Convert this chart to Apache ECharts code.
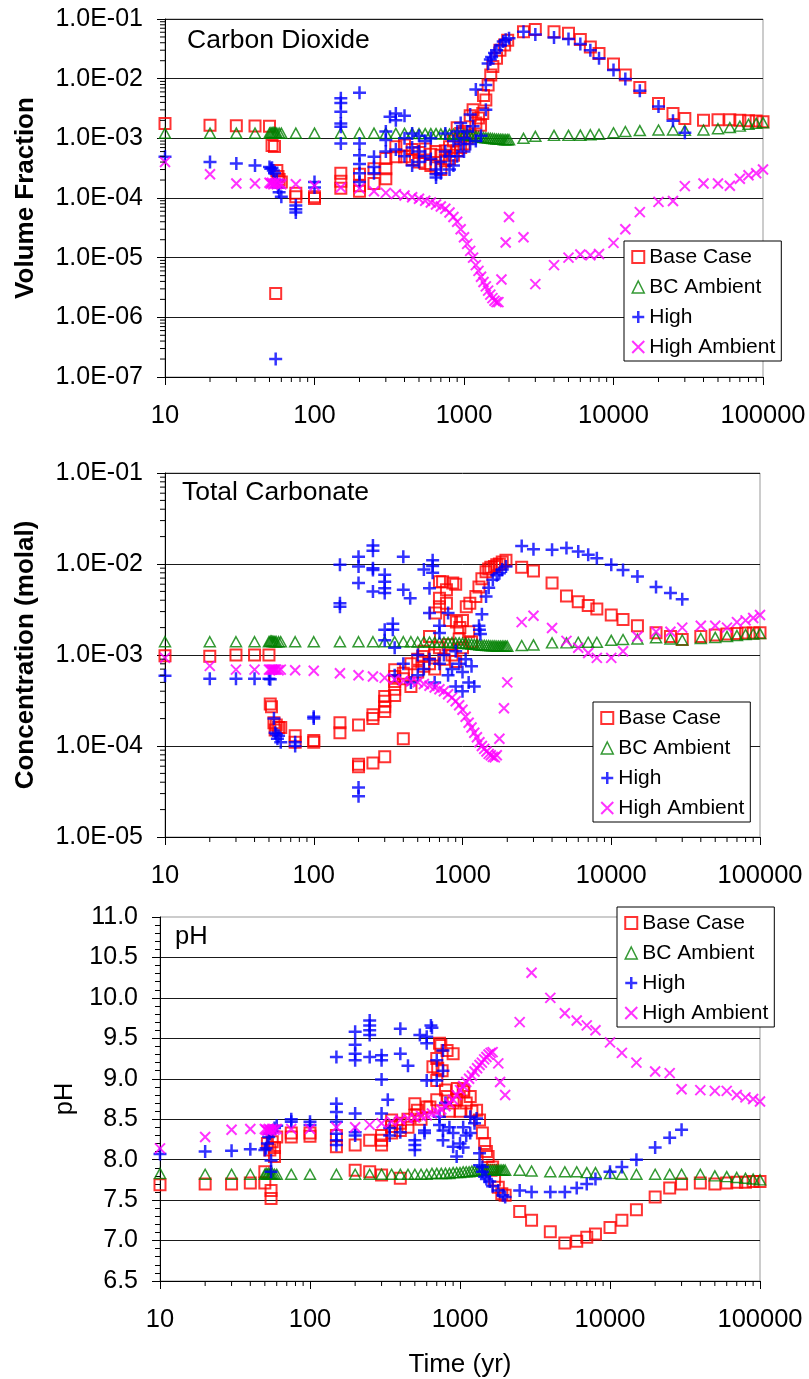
<!DOCTYPE html>
<html>
<head>
<meta charset="utf-8">
<title>Carbon Dioxide, Total Carbonate and pH versus time</title>
<script src="https://cdn.jsdelivr.net/npm/echarts@6/dist/echarts.min.js"></script>
<style>
  html, body { margin: 0; padding: 0; background: #fff; }
  #chart { width: 809px; height: 1379px; }
</style>
</head>
<body>
<div id="chart"></div>
<script>
// ---------- Data: [time (yr), value] ----------
const seriesNames = ['Base Case', 'BC Ambient', 'High', 'High Ambient'];
const panelTitles = ['Carbon Dioxide', 'Total Carbonate', 'pH'];
const yAxisTitles = ['Volume Fraction', 'Concentration (molal)', 'pH'];
const xAxisTitle = 'Time (yr)';

// Carbon dioxide, volume fraction
const co2Base = [
  [10,1.78e-3],[20,1.66e-3],[30,1.63e-3],[40,1.61e-3],[50,1.6e-3],
  [52,7.6e-4],[54,7.3e-4],[55,2.5e-6],[56,2.9e-4],[57,2.3e-4],[58,2.05e-4],[60,1.85e-4],
  [75,1.2e-4],[75,1.05e-4],[100,1.05e-4],[100,9.8e-5],
  [150,2.6e-4],[150,1.9e-4],[150,1.45e-4],[200,2.5e-4],[200,1.6e-4],[200,1.3e-4],
  [250,3.1e-4],[250,1.75e-4],[300,4.6e-4],[300,3.1e-4],[300,2.1e-4],
  [350,7.2e-4],[350,4.9e-4],[400,7.7e-4],[400,4.9e-4],[450,6.5e-4],[450,4.4e-4],
  [500,5.8e-4],[500,4.0e-4],[550,6.6e-4],[550,3.8e-4],[600,5.4e-4],[600,3.5e-4],
  [650,6.0e-4],[650,3.2e-4],[700,5.2e-4],[700,3.0e-4],[750,6.2e-4],[750,4.2e-4],
  [800,7.2e-4],[800,4.5e-4],[850,9.0e-4],[850,5.2e-4],[900,1.5e-3],[900,6.2e-4],
  [950,1.2e-3],[950,7.0e-4],[1000,1.3e-3],[1000,8.0e-4],[1050,1.0e-3],[1100,2.4e-3],
  [1100,1.1e-3],[1150,3.0e-3],[1200,1.8e-3],[1250,2.2e-3],[1290,1.65e-3],[1335,2.6e-3],
  [1350,5.2e-3],[1400,4.4e-3],[1450,7.8e-3],[1510,1.15e-2],[1560,1.6e-2],[1650,2.2e-2],
  [1740,3.0e-2],[1870,3.65e-2],[1960,4.4e-2],
  [2500,6.1e-2],[3000,6.7e-2],[4000,6.1e-2],[5000,5.75e-2],[6000,4.55e-2],[7000,3.4e-2],
  [8000,2.65e-2],[10000,1.76e-2],[12000,1.15e-2],[15000,7.1e-3],[20000,3.85e-3],
  [25000,2.6e-3],[30000,2.15e-3],[40000,2.0e-3],[50000,2.05e-3],[60000,2.05e-3],
  [70000,2.0e-3],[80000,1.97e-3],[90000,1.95e-3],[100000,1.9e-3]
];
const co2BcAmb = [
  [10,1.22e-3],[20,1.22e-3],[30,1.22e-3],[40,1.22e-3],[50,1.22e-3],[51,1.24e-3],[52,1.25e-3],
  [53,1.25e-3],[54,1.24e-3],[55,1.23e-3],[56,1.22e-3],[58,1.22e-3],[60,1.22e-3],[75,1.22e-3],
  [100,1.22e-3],[150,1.22e-3],[200,1.22e-3],[250,1.22e-3],[300,1.21e-3],[350,1.21e-3],
  [400,1.21e-3],[450,1.21e-3],[500,1.2e-3],[550,1.2e-3],[600,1.2e-3],[650,1.2e-3],
  [700,1.19e-3],[750,1.19e-3],[800,1.18e-3],[850,1.18e-3],[900,1.17e-3],[950,1.16e-3],
  [1000,1.15e-3],[1050,1.14e-3],[1100,1.12e-3],[1150,1.1e-3],[1200,1.08e-3],[1250,1.06e-3],
  [1300,1.04e-3],[1350,1.03e-3],[1400,1.02e-3],[1450,1.01e-3],[1500,1.0e-3],[1550,9.9e-4],
  [1600,9.8e-4],[1650,9.7e-4],[1700,9.7e-4],[1750,9.6e-4],[1800,9.6e-4],[1850,9.5e-4],
  [1900,9.5e-4],[1950,9.5e-4],[2000,9.5e-4],[2500,1.0e-3],[3000,1.08e-3],[4000,1.12e-3],
  [5000,1.12e-3],[6000,1.13e-3],[7000,1.15e-3],[8000,1.17e-3],[10000,1.24e-3],[12000,1.3e-3],
  [15000,1.35e-3],[20000,1.38e-3],[25000,1.38e-3],[30000,1.36e-3],[40000,1.38e-3],
  [50000,1.45e-3],[60000,1.52e-3],[70000,1.6e-3],[80000,1.72e-3],[90000,1.78e-3],[100000,1.83e-3]
];
const co2High = [
  [10,4.9e-4],[20,4.0e-4],[30,3.8e-4],[40,3.5e-4],[50,3.3e-4],[51,3.1e-4],[52,3.2e-4],
  [53,2.9e-4],[54,2.6e-4],[55,2.0e-7],[56,2.0e-4],[57,1.5e-4],[58,1.25e-4],[60,1.05e-4],
  [75,7.5e-5],[75,6.5e-5],[75,5.7e-5],[100,1.85e-4],[100,1.5e-4],
  [150,4.7e-3],[150,3.9e-3],[150,2.8e-3],[150,1.78e-3],[150,1.56e-3],[150,8.2e-4],
  [200,5.8e-3],[200,8.2e-4],[200,5.2e-4],[200,3.7e-4],[200,2.6e-4],[200,1.85e-4],
  [250,4.9e-4],[250,3.3e-4],[250,2.6e-4],[300,1.3e-3],[300,9.4e-4],[300,6.0e-4],[320,2.3e-3],
  [350,2.6e-3],[350,2.0e-3],[350,6.5e-4],[400,2.4e-3],[400,1.0e-3],[400,5.0e-4],
  [450,1.2e-3],[450,7.0e-4],[450,3.5e-4],[500,1.1e-3],[500,6.0e-4],[500,4.0e-4],
  [550,9.0e-4],[550,5.0e-4],[600,1.0e-3],[600,4.5e-4],[650,3.0e-4],[650,2.5e-4],[650,2.2e-4],
  [700,2.6e-4],[700,4.0e-4],[750,1.2e-3],[750,6.0e-4],[800,5.0e-4],[800,3.0e-4],
  [850,9.0e-4],[850,3.5e-4],[900,1.3e-3],[900,5.0e-4],[950,1.8e-3],[950,8.0e-4],
  [1000,1.0e-3],[1000,6.0e-4],[1050,1.3e-3],[1100,2.5e-3],[1100,8.0e-4],[1150,1.6e-3],
  [1200,6.6e-3],[1200,9.0e-4],[1300,1.1e-3],[1400,7.8e-3],[1400,3.0e-3],[1450,1.8e-2],
  [1500,2.1e-2],[1530,2.3e-2],[1600,2.7e-2],[1650,3.0e-2],[1750,3.6e-2],[1830,4.2e-2],
  [1900,4.5e-2],[2000,4.75e-2],
  [2500,6.1e-2],[3000,5.5e-2],[4000,4.9e-2],[5000,4.6e-2],[6000,3.8e-2],[7000,3.0e-2],
  [8000,2.2e-2],[10000,1.4e-2],[12000,9.9e-3],[15000,6.3e-3],[20000,3.4e-3],
  [25000,1.97e-3],[30000,1.24e-3]
];
const co2HighAmb = [
  [10,4.0e-4],[20,2.5e-4],[30,1.75e-4],[40,1.75e-4],[50,1.8e-4],[51,1.75e-4],[52,1.8e-4],
  [53,1.7e-4],[54,1.75e-4],[55,1.8e-4],[56,1.7e-4],[58,1.75e-4],[60,1.7e-4],[75,1.7e-4],
  [100,1.6e-4],[150,1.5e-4],[200,1.45e-4],[250,1.3e-4],[300,1.22e-4],[350,1.16e-4],
  [400,1.1e-4],[450,1.03e-4],[500,9.7e-5],[550,9.0e-5],[600,8.4e-5],[650,7.8e-5],
  [700,7.2e-5],[750,6.6e-5],[800,5.7e-5],[850,4.8e-5],[900,4.0e-5],[950,3.0e-5],
  [1000,2.2e-5],[1050,1.7e-5],[1100,1.3e-5],[1150,1.0e-5],[1200,7.5e-6],[1250,6.0e-6],
  [1300,4.8e-6],[1350,3.9e-6],[1400,3.3e-6],[1450,2.8e-6],[1500,2.4e-6],[1550,2.1e-6],
  [1600,1.9e-6],[1650,1.8e-6],[1700,1.8e-6],[1780,4.3e-6],[1900,1.8e-5],[2000,4.8e-5],
  [2500,2.2e-5],[3000,3.6e-6],[4000,7.5e-6],[5000,1.0e-5],[6000,1.13e-5],[7000,1.1e-5],
  [8000,1.15e-5],[10000,1.77e-5],[12000,3.0e-5],[15000,5.8e-5],[20000,8.6e-5],
  [25000,8.9e-5],[30000,1.58e-4],[40000,1.75e-4],[50000,1.75e-4],[60000,1.6e-4],
  [70000,2.1e-4],[80000,2.4e-4],[90000,2.6e-4],[100000,3.0e-4]
];

// Total carbonate, molal
const tcBase = [
  [10,9.8e-4],[20,9.7e-4],[30,1.0e-3],[40,1.0e-3],[50,1.0e-3],[51,2.9e-4],[52,2.7e-4],
  [54,1.8e-4],[55,1.5e-4],[56,1.7e-4],[58,1.6e-4],[60,1.6e-4],[75,1.3e-4],[75,1.1e-4],
  [100,1.15e-4],[100,1.1e-4],[150,1.8e-4],[150,1.4e-4],[200,1.7e-4],[200,6.3e-5],[200,5.9e-5],
  [250,2.2e-4],[250,2.0e-4],[250,6.5e-5],[300,3.5e-4],[300,3.1e-4],[300,2.7e-4],[300,2.4e-4],
  [300,7.6e-5],[350,6.9e-4],[350,5.8e-4],[350,5.1e-4],[350,4.2e-4],[350,3.6e-4],
  [400,1.2e-4],[400,6.3e-4],[400,5.5e-4],[450,4.5e-4],[450,8.0e-4],[500,9.0e-4],[500,6.5e-4],
  [540,9.6e-4],[550,1.1e-3],[550,7.5e-4],[600,1.6e-3],[600,8.0e-4],[650,1.0e-3],[650,7.0e-4],
  [660,2.9e-3],[700,6.4e-3],[700,4.2e-3],[700,3.4e-3],[700,1.2e-3],[735,6.4e-3],[750,9.0e-4],
  [780,5.2e-3],[780,3.7e-3],[800,1.3e-3],[820,2.4e-3],[850,1.0e-3],[860,6.2e-3],[900,6.0e-3],
  [900,8.5e-4],[910,2.3e-3],[950,1.5e-3],[960,2.0e-3],[1000,2.4e-3],[1000,1.2e-3],
  [1060,3.4e-3],[1100,1.8e-3],[1120,3.7e-3],[1150,1.4e-3],[1230,4.4e-3],[1290,5.6e-3],
  [1350,6.9e-3],[1440,8.2e-3],[1500,8.8e-3],[1550,9.2e-3],[1640,9.4e-3],[1700,9.8e-3],
  [1770,1.0e-2],[1850,1.05e-2],[1960,1.1e-2],
  [2500,9.2e-3],[3000,8.4e-3],[4000,6.2e-3],[5000,4.45e-3],[6000,3.85e-3],[7000,3.5e-3],
  [8000,3.2e-3],[10000,2.75e-3],[12000,2.45e-3],[15000,2.1e-3],[20000,1.76e-3],
  [25000,1.6e-3],[30000,1.48e-3],[40000,1.6e-3],[50000,1.66e-3],[60000,1.7e-3],
  [70000,1.72e-3],[80000,1.74e-3],[90000,1.75e-3],[100000,1.76e-3]
];
const tcBcAmb = [
  [10,1.4e-3],[20,1.4e-3],[30,1.4e-3],[40,1.4e-3],[50,1.4e-3],[51,1.42e-3],[52,1.42e-3],
  [53,1.41e-3],[54,1.41e-3],[55,1.4e-3],[56,1.4e-3],[58,1.4e-3],[60,1.4e-3],[75,1.4e-3],
  [100,1.4e-3],[150,1.4e-3],[200,1.4e-3],[250,1.4e-3],[300,1.4e-3],[350,1.4e-3],
  [400,1.4e-3],[450,1.4e-3],[500,1.39e-3],[550,1.39e-3],[600,1.39e-3],[650,1.38e-3],
  [700,1.38e-3],[750,1.38e-3],[800,1.37e-3],[850,1.37e-3],[900,1.36e-3],[950,1.36e-3],
  [1000,1.35e-3],[1050,1.34e-3],[1100,1.33e-3],[1150,1.32e-3],[1200,1.31e-3],[1250,1.3e-3],
  [1300,1.29e-3],[1350,1.28e-3],[1400,1.28e-3],[1450,1.27e-3],[1500,1.27e-3],[1550,1.26e-3],
  [1600,1.26e-3],[1650,1.26e-3],[1700,1.25e-3],[1750,1.25e-3],[1800,1.25e-3],[1850,1.25e-3],
  [1900,1.25e-3],[1950,1.25e-3],[2000,1.25e-3],[2500,1.27e-3],[3000,1.29e-3],[4000,1.36e-3],
  [5000,1.36e-3],[6000,1.38e-3],[7000,1.38e-3],[8000,1.38e-3],[10000,1.45e-3],[12000,1.48e-3],
  [15000,1.5e-3],[20000,1.55e-3],[25000,1.5e-3],[30000,1.46e-3],[40000,1.52e-3],
  [50000,1.56e-3],[60000,1.6e-3],[70000,1.64e-3],[80000,1.68e-3],[90000,1.7e-3],[100000,1.72e-3]
];
const tcHigh = [
  [10,5.9e-4],[20,5.5e-4],[30,5.5e-4],[40,5.5e-4],[50,5.5e-4],[51,5.4e-4],[54,2.0e-4],
  [55,1.4e-4],[56,1.35e-4],[57,1.2e-4],[58,1.3e-4],[60,1.1e-4],[75,1.1e-4],[75,1.0e-4],
  [100,2.1e-4],[100,2.0e-4],[150,9.8e-3],[150,3.7e-3],[150,3.4e-3],
  [200,1.2e-2],[200,9.4e-3],[200,6.2e-3],[200,3.5e-5],[200,2.8e-5],
  [250,1.6e-2],[250,1.4e-2],[250,9.0e-3],[250,8.6e-3],[250,5.0e-3],
  [300,7.6e-3],[300,6.4e-3],[300,5.4e-3],[300,4.8e-3],[300,1.9e-3],[300,1.45e-3],
  [340,2.2e-3],[340,1.9e-3],[350,1.2e-3],[350,6.0e-4],[400,1.2e-2],[400,5.2e-3],[400,8.0e-4],
  [445,4.2e-3],[450,5.0e-4],[500,1.0e-3],[500,6.0e-4],[550,8.7e-3],[550,7.0e-4],
  [600,5.4e-3],[600,2.9e-3],[600,9.0e-4],[630,1.1e-2],[630,9.5e-3],[630,8.0e-3],[650,5.0e-4],
  [700,2.1e-3],[700,1.75e-3],[700,8.0e-4],[750,1.0e-3],[800,2.9e-3],[800,6.0e-4],
  [850,7.0e-4],[900,1.1e-3],[900,4.5e-4],[950,8.0e-4],[1000,6.5e-4],[1000,4.0e-4],
  [1050,9.0e-4],[1100,5.0e-4],[1150,7.5e-4],[1200,4.5e-4],[1290,2.1e-3],[1300,1.9e-3],
  [1320,1.7e-3],[1350,2.8e-3],[1440,4.4e-3],[1500,5.5e-3],[1600,6.7e-3],[1700,7.5e-3],
  [1770,7.9e-3],[1850,8.7e-3],[1960,9.4e-3],
  [2500,1.58e-2],[3000,1.45e-2],[4000,1.43e-2],[5000,1.5e-2],[6000,1.37e-2],[7000,1.26e-2],
  [8000,1.16e-2],[10000,9.8e-3],[12000,8.6e-3],[15000,7.3e-3],[20000,5.6e-3],
  [25000,4.8e-3],[30000,4.1e-3]
];
const tcHighAmb = [
  [10,9.3e-4],[20,7.6e-4],[30,6.9e-4],[40,6.9e-4],[50,6.9e-4],[51,6.9e-4],[52,6.9e-4],
  [53,6.9e-4],[54,6.9e-4],[55,6.9e-4],[56,6.9e-4],[58,6.8e-4],[60,6.9e-4],[75,6.8e-4],
  [100,6.7e-4],[150,6.3e-4],[200,6.0e-4],[250,5.8e-4],[300,5.6e-4],[350,5.4e-4],
  [400,5.2e-4],[450,5.1e-4],[500,5.0e-4],[550,4.8e-4],[600,4.6e-4],[650,4.4e-4],
  [700,4.2e-4],[750,4.0e-4],[800,3.7e-4],[850,3.4e-4],[900,3.1e-4],[950,2.8e-4],
  [1000,2.5e-4],[1050,2.1e-4],[1100,1.8e-4],[1150,1.6e-4],[1200,1.4e-4],[1250,1.25e-4],
  [1300,1.1e-4],[1350,1.0e-4],[1400,9.3e-5],[1450,8.7e-5],[1500,8.2e-5],[1550,7.9e-5],
  [1600,7.6e-5],[1650,7.5e-5],[1700,7.9e-5],[1770,1.2e-4],[1900,2.6e-4],[2000,5.0e-4],
  [2500,2.3e-3],[3000,2.7e-3],[4000,1.98e-3],[5000,1.43e-3],[6000,1.2e-3],[7000,1.05e-3],
  [8000,9.3e-4],[10000,9.3e-4],[12000,1.1e-3],[15000,1.6e-3],[20000,1.8e-3],[25000,1.8e-3],
  [30000,2.0e-3],[40000,2.1e-3],[50000,2.1e-3],[60000,2.0e-3],[70000,2.3e-3],
  [80000,2.4e-3],[90000,2.55e-3],[100000,2.75e-3]
];

// pH
const phBase = [
  [10,7.69],[20,7.7],[30,7.7],[40,7.71],[50,7.71],[50,7.85],[52,8.2],[54,8.12],[55,7.62],
  [55,7.52],[56,8.22],[58,8.15],[58,8.04],[60,8.28],[75,8.28],[75,8.33],[100,8.33],[100,8.29],
  [150,8.3],[150,8.16],[200,8.18],[200,7.87],[250,8.24],[250,7.85],[300,8.3],[300,8.24],
  [300,8.18],[300,7.81],[350,8.49],[350,8.41],[350,8.33],[400,7.77],[400,8.45],[400,8.36],
  [450,8.5],[450,8.4],[500,8.69],[500,8.55],[520,8.61],[550,8.5],[600,8.65],[630,8.65],
  [660,9.15],[700,8.74],[700,9.25],[700,8.98],[710,9.13],[730,9.44],[745,9.41],[760,9.1],
  [800,8.86],[820,8.78],[820,9.35],[850,8.6],[900,9.31],[900,8.7],[950,8.74],[960,8.88],
  [1000,8.6],[1050,8.86],[1060,8.84],[1100,8.7],[1170,8.78],[1200,8.6],[1290,8.61],
  [1350,8.49],[1410,8.33],[1460,8.2],[1500,8.1],[1540,8.04],[1610,7.87],[1650,7.91],
  [1700,7.75],[1800,7.66],[1900,7.58],[2000,7.56],
  [2500,7.36],[3000,7.25],[4000,7.11],[5000,6.97],[6000,6.99],[7000,7.04],[8000,7.08],
  [10000,7.16],[12000,7.25],[15000,7.38],[20000,7.54],[25000,7.65],[30000,7.7],
  [40000,7.71],[50000,7.7],[60000,7.71],[70000,7.72],[80000,7.72],[90000,7.73],[100000,7.73]
];
const phBcAmb = [
  [10,7.83],[20,7.82],[30,7.82],[40,7.82],[50,7.82],[51,7.83],[52,7.82],[53,7.83],[54,7.82],
  [55,7.82],[56,7.83],[58,7.82],[60,7.82],[75,7.82],[100,7.82],[150,7.82],[200,7.82],
  [250,7.82],[300,7.82],[350,7.82],[400,7.82],[450,7.82],[500,7.82],[550,7.82],[600,7.82],
  [650,7.83],[700,7.83],[750,7.83],[800,7.83],[850,7.83],[900,7.84],[950,7.84],[1000,7.84],
  [1050,7.85],[1100,7.85],[1150,7.85],[1200,7.86],[1250,7.86],[1300,7.86],[1350,7.87],
  [1400,7.87],[1450,7.87],[1500,7.87],[1550,7.87],[1600,7.87],[1650,7.87],[1700,7.87],
  [1750,7.87],[1800,7.87],[1850,7.87],[1900,7.87],[1950,7.87],[2000,7.87],[2500,7.87],
  [3000,7.86],[4000,7.85],[5000,7.85],[6000,7.85],[7000,7.84],[8000,7.84],[10000,7.83],
  [12000,7.82],[15000,7.82],[20000,7.82],[25000,7.82],[30000,7.82],[40000,7.82],
  [50000,7.8],[60000,7.79],[70000,7.78],[80000,7.77],[90000,7.76],[100000,7.75]
];
const phHigh = [
  [10,8.07],[20,8.1],[30,8.11],[40,8.13],[50,8.12],[51,8.14],[52,8.2],[53,8.28],[54,8.32],
  [55,7.99],[55,7.85],[56,8.35],[58,8.39],[60,8.42],[75,8.5],[75,8.47],[100,8.47],[100,8.43],
  [150,9.27],[150,8.69],[150,8.59],[150,8.47],[150,8.32],[150,8.24],[150,8.18],
  [200,9.58],[200,9.42],[200,9.31],[200,9.23],[200,8.57],[200,8.34],[200,8.3],
  [250,9.72],[250,9.66],[250,9.6],[250,9.54],[250,9.27],[300,9.29],[300,9.23],[300,8.99],
  [300,8.57],[330,8.74],[340,8.39],[340,8.3],[400,9.62],[400,9.31],[400,8.34],[450,9.16],
  [500,8.24],[500,8.18],[500,8.12],[540,9.54],[580,8.36],[580,8.33],[600,9.52],[600,9.44],
  [600,8.98],[640,9.66],[650,9.63],[700,9.23],[700,8.98],[730,8.53],[730,8.43],[770,9.35],
  [770,9.1],[770,8.36],[770,8.24],[800,8.7],[850,8.4],[900,8.33],[900,8.16],[950,8.04],
  [1000,8.2],[1050,8.4],[1050,8.15],[1100,8.3],[1170,8.53],[1170,8.33],[1250,8.45],
  [1290,8.51],[1350,8.08],[1350,7.93],[1410,7.91],[1410,7.85],[1460,7.79],[1500,7.76],
  [1580,7.73],[1650,7.67],[1800,7.62],[1930,7.56],[2000,7.54],
  [2500,7.62],[3000,7.6],[4000,7.6],[5000,7.6],[6000,7.65],[7000,7.7],[8000,7.76],
  [10000,7.85],[12000,7.91],[15000,8.0],[20000,8.15],[25000,8.27],[30000,8.37]
];
const phHighAmb = [
  [10,8.14],[20,8.28],[30,8.37],[40,8.38],[50,8.38],[51,8.37],[52,8.36],[53,8.38],[54,8.37],
  [55,8.36],[56,8.38],[58,8.37],[60,8.38],[75,8.38],[100,8.38],[150,8.4],[200,8.4],
  [250,8.43],[300,8.45],[350,8.47],[400,8.49],[450,8.51],[500,8.52],[550,8.54],[600,8.55],
  [650,8.57],[700,8.59],[750,8.62],[800,8.66],[850,8.7],[900,8.74],[950,8.8],[1000,8.86],
  [1050,8.91],[1100,8.96],[1150,9.0],[1200,9.04],[1250,9.09],[1300,9.13],[1350,9.17],
  [1400,9.2],[1450,9.24],[1500,9.27],[1550,9.3],[1600,9.32],[1650,9.33],[1800,9.19],
  [1850,8.96],[2000,8.8],
  [2500,9.7],[3000,10.31],[4000,10.0],[5000,9.81],[6000,9.72],[7000,9.66],[8000,9.6],
  [10000,9.45],[12000,9.32],[15000,9.2],[20000,9.09],[25000,9.07],[30000,8.87],
  [40000,8.86],[50000,8.85],[60000,8.85],[70000,8.8],[80000,8.77],[90000,8.75],[100000,8.72]
];

const panels = [
  [co2Base, co2BcAmb, co2High, co2HighAmb],
  [tcBase, tcBcAmb, tcHigh, tcHighAmb],
  [phBase, phBcAmb, phHigh, phHighAmb]
];

// ---------- Styling ----------
const FONT = 'Liberation Sans, Arial, sans-serif';
const PLUS = 'path://M0,5L10,5M5,0L5,10';
const CROSS = 'path://M0,0L10,10M10,0L0,10';
const markerStyles = [
  { symbol: 'rect', symbolSize: 11, itemStyle: { color: 'rgba(0,0,0,0)', borderColor: '#ff0000', borderWidth: 2 } },
  { symbol: 'triangle', symbolSize: [11, 10], itemStyle: { color: 'rgba(0,0,0,0)', borderColor: '#008000', borderWidth: 1.5 } },
  { symbol: PLUS, symbolSize: 13, itemStyle: { color: 'rgba(0,0,0,0)', borderColor: '#0000ff', borderWidth: 2.5 } },
  { symbol: CROSS, symbolSize: 10, itemStyle: { color: 'rgba(0,0,0,0)', borderColor: '#ff00ff', borderWidth: 2 } }
];

const grids = [
  { left: 165, top: 19, width: 598, height: 358 },
  { left: 165, top: 473, width: 595, height: 364 },
  { left: 160, top: 917, width: 600, height: 364 }
];
const yRanges = [[1e-7, 1e-1], [1e-5, 1e-1], [6.5, 11]];

function sciLabel(v) {
  const parts = v.toExponential(1).split('e');
  const e = parseInt(parts[1], 10);
  return parts[0] + 'E' + (e < 0 ? '-' : '+') + String(Math.abs(e)).padStart(2, '0');
}

// minor tick positions at 2..9 times each power of ten
function logMinorPositions(lo, hi) {
  const out = [];
  for (let k = Math.round(Math.log10(lo)); k < Math.round(Math.log10(hi)); k++) {
    for (let m = 2; m <= 9; m++) out.push(m * Math.pow(10, k));
  }
  return out;
}

function minorTickSeries(idx, dir, positions, anchor, len) {
  return {
    type: 'custom', xAxisIndex: idx, yAxisIndex: idx, silent: true, z: 6, clip: false,
    data: positions.map(v => dir === 'x' ? [v, anchor] : [anchor, v]),
    renderItem: function (params, api) {
      const p = api.coord([api.value(0), api.value(1)]);
      const shape = dir === 'x'
        ? { x1: p[0], y1: p[1], x2: p[0], y2: p[1] + len }
        : { x1: p[0] - len, y1: p[1], x2: p[0], y2: p[1] };
      return { type: 'line', shape: shape, style: { stroke: '#000', lineWidth: 1 } };
    }
  };
}

const xAxes = grids.map((g, i) => ({
  type: 'log', logBase: 10, gridIndex: i, min: 10, max: 100000, splitNumber: 4,
  axisLine: { show: true, onZero: false, lineStyle: { color: '#000', width: 1 } },
  axisTick: { show: true, inside: false, length: 8, lineStyle: { color: '#000' } },
  axisLabel: { show: true, margin: 26, color: '#000', fontFamily: FONT, fontSize: 25.5,
    formatter: v => String(Math.round(v)) },
  splitLine: { show: false },
  name: i === 2 ? xAxisTitle : '',
  nameLocation: 'middle', nameGap: 71,
  nameTextStyle: { color: '#000', fontFamily: FONT, fontSize: 26 }
}));

const yAxes = grids.map((g, i) => {
  const isLog = i < 2;
  const ax = {
    type: isLog ? 'log' : 'value', gridIndex: i,
    min: yRanges[i][0], max: yRanges[i][1],
    axisLine: { show: true, onZero: false, lineStyle: { color: '#000', width: 1 } },
    axisTick: { show: true, inside: false, length: 8, lineStyle: { color: '#000' } },
    axisLabel: { show: true, margin: 22, color: '#000', fontFamily: FONT, fontSize: 25,
      formatter: isLog ? sciLabel : (v => v.toFixed(1)) },
    splitLine: { show: true, showMinLine: false, showMaxLine: false, lineStyle: { color: '#1a1a1a', width: 1 } },
    name: yAxisTitles[i], nameLocation: 'middle', nameRotate: 90,
    nameGap: i === 2 ? 82 : 126,
    nameTextStyle: { color: '#000', fontFamily: FONT, fontSize: i === 2 ? 25.5 : 26, fontWeight: i === 2 ? 'normal' : 'bold' }
  };
  if (isLog) {
    ax.splitNumber = 6;
  } else {
    ax.interval = 0.5;
    ax.minorTick = { show: true, splitNumber: 5, length: 5, lineStyle: { color: '#000' } };
  }
  return ax;
});

const series = [];
panels.forEach((sets, i) => {
  sets.forEach((data, k) => {
    series.push(Object.assign({
      type: 'scatter', name: seriesNames[k], xAxisIndex: i, yAxisIndex: i,
      data: data, z: 2 + k * 0.1, emphasis: { disabled: true }
    }, markerStyles[k]));
  });
  // minor ticks along the time axis
  series.push(minorTickSeries(i, 'x', logMinorPositions(10, 100000), yRanges[i][0], 5));
  // minor ticks along the log concentration axes
  if (i < 2) series.push(minorTickSeries(i, 'y', logMinorPositions(yRanges[i][0], yRanges[i][1]), 10, 5));
});

const legendBoxes = [
  { left: 624, top: 241 },
  { left: 593, top: 702 },
  { left: 617, top: 907 }
];
const legends = legendBoxes.map(b => ({
  left: b.left, top: b.top, orient: 'vertical', selectedMode: false,
  padding: [4, 6, 2, 7], itemGap: 6, itemWidth: 12, itemHeight: 12,
  backgroundColor: '#fff', borderColor: '#000', borderWidth: 1, borderRadius: 0,
  textStyle: { color: '#000', fontFamily: FONT, fontSize: 21, lineHeight: 24 },
  data: seriesNames.map((n, k) => ({
    name: n, icon: markerStyles[k].symbol,
    itemStyle: Object.assign({}, markerStyles[k].itemStyle)
  }))
}));

const titleSpots = [
  { x: 187, y: 41, size: 26.5 },
  { x: 182, y: 493, size: 26.5 },
  { x: 175, y: 937, size: 25.5 }
];
const graphics = titleSpots.map((t, i) => ({
  type: 'text', x: t.x, y: t.y, z: 10,
  style: { text: panelTitles[i], fill: '#000', font: t.size + 'px ' + FONT, align: 'left', verticalAlign: 'middle' }
}));

const chart = echarts.init(document.getElementById('chart'), null, { renderer: 'canvas' });
chart.setOption({
  animation: false,
  backgroundColor: '#fff',
  grid: grids.map(g => Object.assign({
    show: true, borderColor: '#999', borderWidth: 1, backgroundColor: 'transparent',
    containLabel: false, outerBoundsMode: 'none'
  }, g)),
  xAxis: xAxes,
  yAxis: yAxes,
  legend: legends,
  graphic: graphics,
  series: series
});
</script>
</body>
</html>
